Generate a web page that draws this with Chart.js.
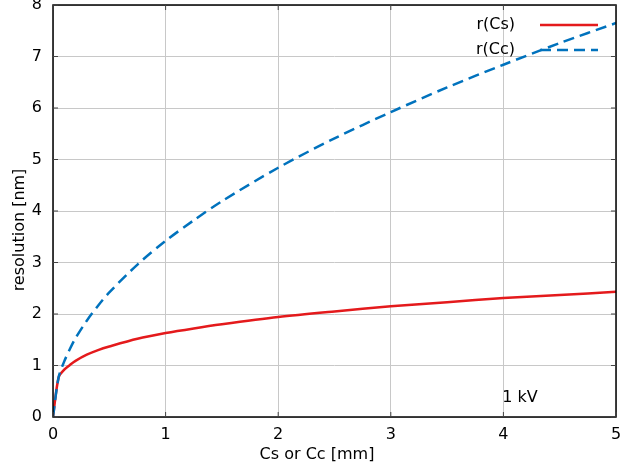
<!DOCTYPE html>
<html>
<head>
<meta charset="utf-8">
<script src="https://cdn.jsdelivr.net/npm/chart.js@4.4.0/dist/chart.umd.min.js"></script>
<style>
    html, body { margin: 0; padding: 0; background: #fff; }
    .chart-box { width: 638px; height: 470px; }
</style>
</head>
<body>
<div class="chart-box">
    <canvas id="myChart" width="638" height="470"></canvas>
</div>
<script>
    // values
    const cValues = [0, 0.05, 0.1, 0.15, 0.2, 0.3, 0.4, 0.5, 0.75, 1, 1.25, 1.5, 2, 2.5, 3, 3.5, 4, 4.5, 5];
    const rCs = [0, 0.77, 0.92, 1.01, 1.09, 1.21, 1.30, 1.37, 1.52, 1.63, 1.72, 1.80, 1.94, 2.05, 2.15, 2.23, 2.31, 2.37, 2.43];
    const rCc = [0, 0.77, 1.08, 1.32, 1.53, 1.87, 2.16, 2.42, 2.96, 3.42, 3.82, 4.19, 4.84, 5.41, 5.92, 6.40, 6.84, 7.26, 7.65];
    const xTicks = [0, 1, 2, 3, 4, 5];
    const yTicks = [0, 1, 2, 3, 4, 5, 6, 7, 8];
    const seriesNames = ['r(Cs)', 'r(Cc)'];
    const xTitle = 'Cs or Cc [mm]';
    const yTitle = 'resolution [nm]';
    const note = { x: 3.99, y: 0.38, text: '1 kV' };

    const RED = '#e41a1c';
    const BLUE = '#0072bd';
    const FONT = 'DejaVu Sans';

    function toPoints(ys) {
        return cValues.map((x, i) => ({ x: x, y: ys[i] }));
    }

    // gnuplot-like frame, inward ticks, titles, key and label
    const framePlugin = {
        id: 'frame',
        afterDatasetsDraw(chart) {
            const ctx = chart.ctx;
            const a = chart.chartArea;
            const xs = chart.scales.x, ys = chart.scales.y;
            ctx.save();
            ctx.strokeStyle = '#000';
            ctx.lineWidth = 1.5;
            ctx.strokeRect(a.left, a.top, a.right - a.left, a.bottom - a.top);
            ctx.lineWidth = 1;
            ctx.strokeStyle = '#444';
            const t = 5;
            ctx.beginPath();
            xTicks.forEach(v => {
                const px = xs.getPixelForValue(v);
                ctx.moveTo(px, a.bottom); ctx.lineTo(px, a.bottom - t);
                ctx.moveTo(px, a.top); ctx.lineTo(px, a.top + t);
            });
            yTicks.forEach(v => {
                const py = ys.getPixelForValue(v);
                ctx.moveTo(a.left, py); ctx.lineTo(a.left + t, py);
                ctx.moveTo(a.right, py); ctx.lineTo(a.right - t, py);
            });
            ctx.stroke();

            ctx.fillStyle = '#000';
            ctx.textBaseline = 'middle';

            // axis titles, centred on the canvas like gnuplot
            ctx.font = '16px "' + FONT + '"';
            ctx.textAlign = 'center';
            ctx.fillText(xTitle, 317, 455);
            ctx.save();
            ctx.translate(20, 230);
            ctx.rotate(-Math.PI / 2);
            ctx.fillText(yTitle, 0, 0);
            ctx.restore();

            // key
            ctx.textAlign = 'right';
            const colors = [RED, BLUE];
            const dashes = [[], [11, 6]];
            seriesNames.forEach((name, i) => {
                const y = 25 + i * 25;
                ctx.fillText(name, 515, y);
                ctx.strokeStyle = colors[i];
                ctx.lineWidth = 2.5;
                ctx.setLineDash(dashes[i]);
                ctx.beginPath();
                ctx.moveTo(540, y); ctx.lineTo(598, y);
                ctx.stroke();
            });
            ctx.setLineDash([]);

            // note
            ctx.textAlign = 'left';
            ctx.fillText(note.text, xs.getPixelForValue(note.x), ys.getPixelForValue(note.y));
            ctx.restore();
        }
    };

    const chartElement = document.getElementById('myChart');
    const myChart = new Chart(chartElement, {
        type: 'line',
        data: {
            datasets: [{
                label: seriesNames[1],
                data: toPoints(rCc),
                borderColor: BLUE,
                borderWidth: 2.5,
                borderDash: [11, 6],
                pointRadius: 0,
                tension: 0.3,
                fill: false
            }, {
                label: seriesNames[0],
                data: toPoints(rCs),
                borderColor: RED,
                borderWidth: 2.5,
                pointRadius: 0,
                tension: 0.3,
                fill: false
            }]
        },
        options: {
            responsive: false,
            animation: false,
            devicePixelRatio: 1,
            layout: { padding: { left: 0, right: 22, top: 5, bottom: 0 } },
            plugins: { legend: { display: false }, tooltip: { enabled: false } },
            scales: {
                x: {
                    type: 'linear',
                    min: 0, max: 5,
                    afterBuildTicks(axis) { axis.ticks = xTicks.map(v => ({ value: v })); },
                    afterFit(axis) {
                        axis.height = 53;
                        axis.paddingLeft = 0; axis.paddingRight = 0;
                    },
                    grid: { color: '#c8c8c8', lineWidth: 1, drawTicks: false },
                    border: { display: false },
                    ticks: { color: '#000', font: { family: FONT, size: 16 }, padding: 8 },
                    title: { display: false }
                },
                y: {
                    type: 'linear',
                    min: 0, max: 8,
                    afterBuildTicks(axis) { axis.ticks = yTicks.map(v => ({ value: v })); },
                    afterFit(axis) {
                        axis.width = 53;
                        axis.paddingTop = 0; axis.paddingBottom = 0;
                    },
                    grid: { color: '#c8c8c8', lineWidth: 1, drawTicks: false },
                    border: { display: false },
                    ticks: { color: '#000', font: { family: FONT, size: 16 }, padding: 11 },
                    title: { display: false }
                }
            }
        },
        plugins: [framePlugin]
    });
</script>
</body>
</html>
